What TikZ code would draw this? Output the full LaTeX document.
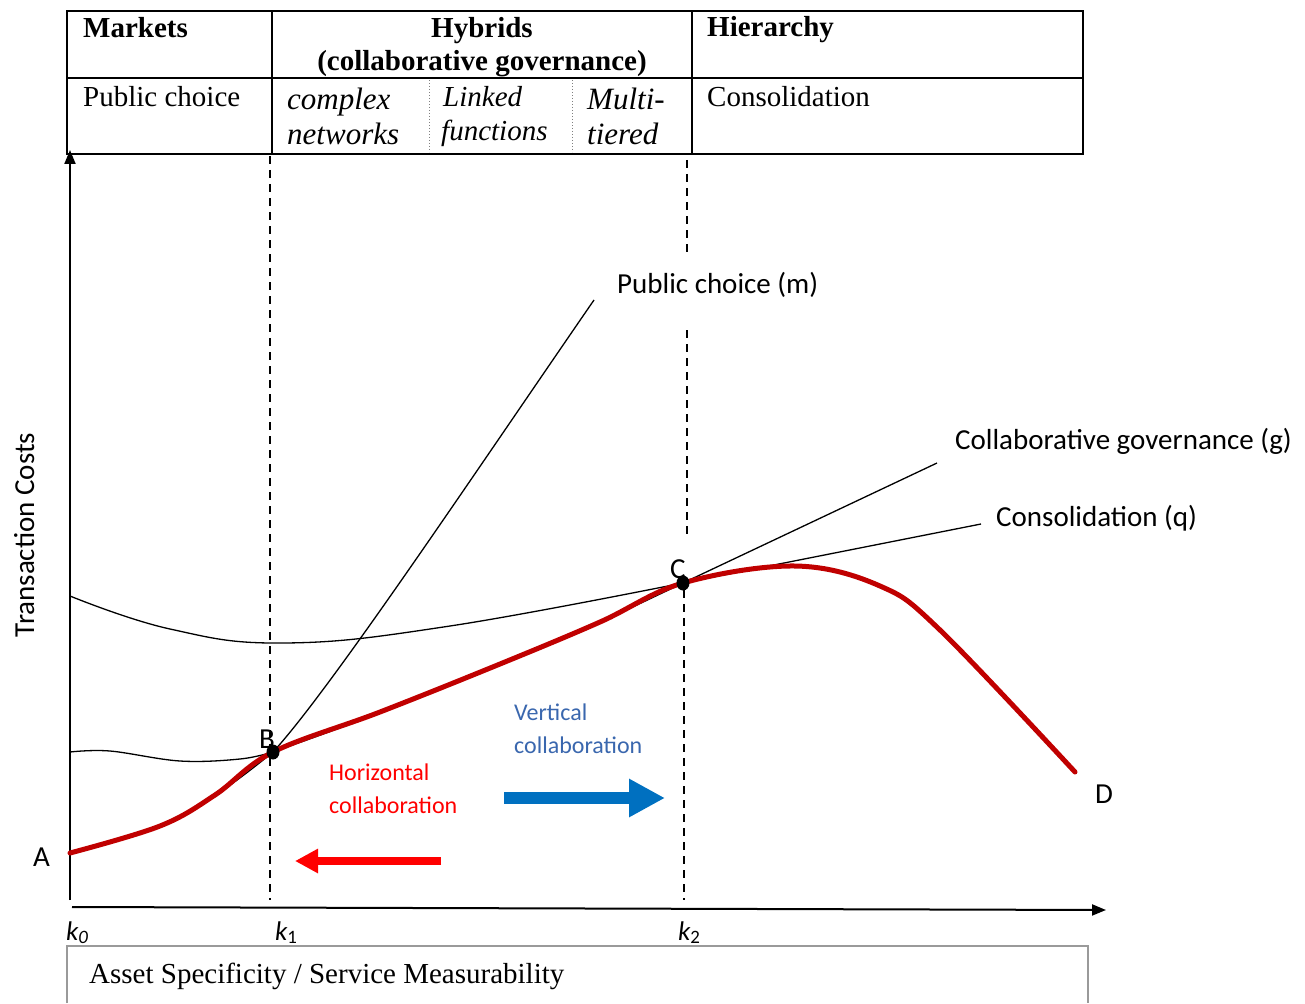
\documentclass[tikz,border=0pt]{standalone}
\usepackage{fontspec}
\setmainfont{Liberation Serif}
\newfontfamily\carl{Carlito}
\usetikzlibrary{arrows.meta}
\definecolor{curvered}{HTML}{C00000}
\definecolor{hred}{HTML}{FF0000}
\definecolor{vblue}{HTML}{3A67AE}
\definecolor{arrblue}{HTML}{0070C0}
\definecolor{boxgray}{HTML}{9A9A9A}
\begin{document}
\begin{tikzpicture}[x=1pt,y=-1pt,
  tline/.style={line width=2pt},
  sep/.style={line width=1pt, gray, dotted},
  serif/.style={font=\fontsize{29}{32}\selectfont, inner sep=0pt, anchor=base west},
  serifb/.style={font=\fontsize{29}{32}\selectfont\bfseries, inner sep=0pt, anchor=base west},
  serifi/.style={font=\fontsize{31}{34}\selectfont\itshape, inner sep=0pt, anchor=base west},
  serifis/.style={font=\fontsize{29}{32}\selectfont\itshape, inner sep=0pt, anchor=base west},
  sans/.style={font=\carl\fontsize{29}{32}\selectfont, inner sep=0pt, anchor=base west},
  sanss/.style={font=\carl\fontsize{24}{28}\selectfont, inner sep=0pt, anchor=base west},
  kl/.style={font=\carl\fontsize{27}{30}\selectfont, inner sep=0pt, anchor=base west},
  thin/.style={line width=1.3pt, black},
  redc/.style={line width=5pt, curvered, line cap=round, line join=round},
  dashv/.style={line width=1.5pt, dash pattern=on 8pt off 6pt},
  axis/.style={line width=2pt, -{Triangle[length=14pt,width=11pt]}},
]
\useasboundingbox (0,0) rectangle (1305,1003);

% ---------- table ----------
\draw[tline] (67,11) rectangle (1083,154);
\draw[tline] (67,78) -- (1083,78);
\draw[tline] (272,11) -- (272,154);
\draw[tline] (692,11) -- (692,154);
\draw[sep] (429,80) -- (429,152);
\draw[sep] (572,80) -- (572,152);

\node[serifb] (mk) at (83,38) {Markets};
\node[serifb, anchor=base] (hy) at (482,38) {Hybrids};
\node[serifb, anchor=base] (cg) at (482,71) {(collaborative governance)};
\node[serifb] (hi) at (707,37) {Hierarchy};
\node[serif] (pc) at (83,107) {Public choice};
\node[serifi] (cx1) at (287,110) {complex};
\node[serifi] (cx2) at (287,145) {networks};
\node[serifis] (lf1) at (443,107) {Linked};
\node[serifis] (lf2) at (441,141) {functions};
\node[serifi] (mt1) at (587,110) {Multi-};
\node[serifi] (mt2) at (587,145) {tiered};
\node[serif] (co) at (707,107) {Consolidation};

% ---------- axes ----------
\coordinate (yb) at (70,900);
\coordinate (yt) at (70,150);
\coordinate (xl) at (72,907);
\coordinate (xr) at (1106,910);
\draw[axis] (yb) -- (yt);
\draw[axis] (xl) -- (xr);

\node[font=\carl\fontsize{29}{32}\selectfont, inner sep=0pt, rotate=90, anchor=base] (tc) at (34,535) {Transaction Costs};

% ---------- dashed lines ----------
\draw[dashv] (270,156) -- (270,900);
\draw[dashv] (687,160) -- (687,255);
\draw[dashv] (687,330) -- (687,535);
\draw[dashv] (684,590) -- (684,900);

% ---------- key points ----------
\coordinate (A) at (70,853);
\coordinate (B) at (273,752);
\coordinate (C) at (683,583);
\coordinate (Dend) at (1075,772);
\coordinate (mend) at (594,300);
\coordinate (gend) at (937,463);
\coordinate (qend) at (981,524);

% m curve
\draw[thin] plot[smooth, tension=0.7] coordinates {(70,853) (160,826) (220,792) (273,752)};
\draw[thin] (B) .. controls (330,690) and (470,480) .. (mend);
% g curve
\draw[thin] plot[smooth, tension=0.6] coordinates {(70,752) (110,751) (180,761) (240,759) (273,752)};
\draw[thin] plot[smooth, tension=0.6] coordinates {(273,752) (380,713) (500,665) (600,622) (683,583)};
\draw[thin] (C) -- (gend);
% q curve
\draw[thin] plot[smooth, tension=0.7] coordinates {(70,596) (170,629) (285,643) (450,626) (683,583)};
\draw[thin] (C) -- (qend);

% red thick curve
\draw[redc] plot[smooth, tension=0.6] coordinates {(70,853) (160,826) (215,795) (273,752) (380,712) (500,664) (600,622) (683,583) (795,566) (880,586) (940,630) (1075,772)};

\fill (B) ellipse (6.5 and 7.5);
\fill (C) ellipse (6.5 and 7.5);

% ---------- labels ----------
\node[sans] (la) at (33,866) {A};
\node[sans] (lb) at (259,748) {B};
\node[sans] (lc) at (670,578) {C};
\node[sans] (ld) at (1095,803) {D};
\node[sans] (lm) at (617,293) {Public choice (m)};
\node[sans] (lg) at (955,449) {Collaborative governance (g)};
\node[sans] (lq) at (996,526) {Consolidation (q)};

\node[sanss, text=vblue] (v1) at (514,720) {Vertical};
\node[sanss, text=vblue] (v2) at (514,753) {collaboration};
\node[sanss, text=hred] (h1) at (329,780) {Horizontal};
\node[sanss, text=hred] (h2) at (329,813) {collaboration};

% arrows
\coordinate (rs) at (441,861);
\coordinate (re) at (295,861);
\draw[hred, line width=8pt, -{Triangle[length=23pt,width=23pt]}] (rs) -- (re);
\coordinate (bs) at (504,798);
\coordinate (be) at (665,798);
\draw[arrblue, line width=12pt, -{Triangle[length=36pt,width=36pt]}] (bs) -- (be);

% k labels
\node[kl] (k0) at (66,940) {\itshape k\textsubscript{0}};
\node[kl] (k1) at (275,940) {\itshape k\textsubscript{\upshape 1}};
\node[kl] (k2) at (678,940) {\itshape k\textsubscript{\upshape 2}};

% bottom box
\draw[boxgray, line width=2pt] (67,1003) -- (67,946) -- (1088,946) -- (1088,1003);
\node[serif] (asm) at (89,983) {Asset Specificity / Service Measurability};
\end{tikzpicture}
\end{document}
